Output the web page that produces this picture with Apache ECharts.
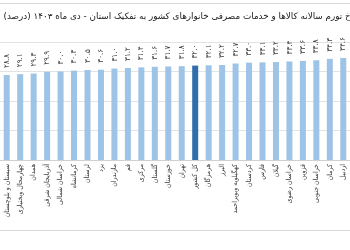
<!DOCTYPE html>
<html><head><meta charset="utf-8">
<script src="https://cdn.jsdelivr.net/npm/echarts@6/dist/echarts.min.js"></script>
<style>html,body{margin:0;padding:0;background:#fff;overflow:hidden}#c{width:350px;height:250px}</style>
</head><body><div id="c"></div>
<script>
// Data (ascending, as in the reference; first and last are partly cut off by the crop)
const categories = [
  'سیستان و بلوچستان',
  'چهارمحال وبختیاری', 'همدان', 'آذربایجان شرقی', 'خراسان شمالی', 'کرمانشاه',
  'لرستان', 'یزد', 'مازندران', 'قم', 'مرکزی', 'گلستان', 'خوزستان', 'تهران',
  'کل کشور', 'هرمزگان', 'البرز', 'کهگیلویه وبویراحمد', 'کردستان', 'فارس',
  'گیلان', 'خراسان رضوی', 'قزوین', 'خراسان جنوبی', 'کرمان', 'اردبیل'
];
const values = [
  28.8,
  29.1, 29.3, 29.9, 30.0, 30.3,
  30.5, 30.6, 31.0, 31.2, 31.4, 31.6, 31.7, 31.8,
  32.0, 32.1, 32.2, 32.7, 33.0, 33.1,
  33.2, 33.4, 33.6, 33.8, 34.3, 34.6
];
const highlightCategory = 'کل کشور';
const titleText = 'نرخ تورم سالانه کالاها و خدمات مصرفی خانوارهای کشور به تفکیک استان - دی ماه ۱۴۰۳ (درصد)';
const yMin = 0, yMax = 40, yInterval = 10;

const FA = '۰۱۲۳۴۵۶۷۸۹';
const toFa = s => String(s).replace(/[0-9]/g, d => FA[+d]);
const FONT = '"DejaVu Sans Condensed", "DejaVu Sans", sans-serif';

const chart = echarts.init(document.getElementById('c'), null, {renderer: 'canvas'});

chart.setOption({
  animation: false,
  backgroundColor: '#fff',
  grid: {left: -11.2, right: -5.4, top: 42, bottom: 90, containLabel: false},
  xAxis: {
    type: 'category', data: categories,
    axisLine: {show: true, lineStyle: {color: '#d0d0d0', width: 1}},
    axisTick: {show: false},
    axisLabel: {interval: 0, rotate: 90, fontSize: 7, color: '#404040', fontFamily: FONT, margin: 4}
  },
  yAxis: {
    type: 'value', min: yMin, max: yMax, interval: yInterval,
    axisLabel: {show: false}, axisLine: {show: false}, axisTick: {show: false},
    splitLine: {show: true, lineStyle: {color: '#e3e3e3', width: 1}}
  },
  series: [{
    type: 'bar', barWidth: 6,
    data: values.map((v, i) => ({
      value: v,
      itemStyle: {color: categories[i] === highlightCategory ? '#2e6ead' : '#9dc3e6'}
    })),
    label: {
      show: true, position: 'top', rotate: 90, align: 'left', verticalAlign: 'middle',
      distance: 7, fontSize: 8, color: '#404040', fontFamily: FONT,
      formatter: p => toFa(p.value.toFixed(1))
    }
  }],
  graphic: [
    {type: 'line', shape: {x1: 0, y1: 3.5, x2: 350, y2: 3.5}, style: {stroke: '#d9d9d9', lineWidth: 1}, silent: true},
    {type: 'line', shape: {x1: 0, y1: 230.5, x2: 350, y2: 230.5}, style: {stroke: '#d9d9d9', lineWidth: 1}, silent: true},
    {type: 'text', x: 358, y: 17, silent: true,
     style: {text: titleText, fontSize: 8.8, fontFamily: '"DejaVu Sans", sans-serif', fontWeight: 'normal',
             fill: '#1a1a1a', align: 'right', verticalAlign: 'middle'}}
  ]
});
</script>
</body></html>
